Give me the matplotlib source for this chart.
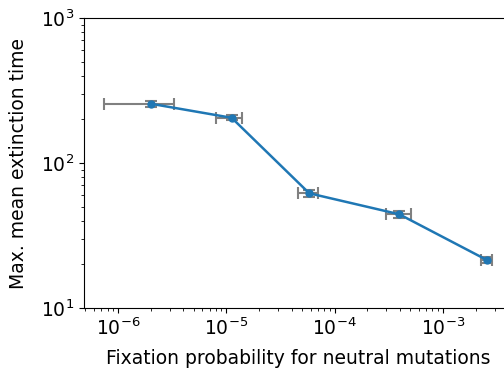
import numpy as np
import matplotlib
matplotlib.use("Agg")
from matplotlib import pyplot as plt

# fixation probability (x) and max. mean extinction time (y)
fix_prob = [2.02e-6, 1.12e-5, 5.83e-5, 3.95e-4, 2.55e-3]
fix_lo = [7.4e-7, 8.04e-6, 4.61e-5, 2.98e-4, 2.26e-3]
fix_hi = [3.29e-6, 1.41e-5, 7.01e-5, 5.04e-4, 2.86e-3]
ext_time = [256, 205, 61.8, 44.3, 21.4]
ext_err = [11, 8, 3.5, 2.5, 1]

W, H = 504, 368
fig = plt.figure(figsize=(W / 100, H / 100), dpi=100)

# axes is cropped on the right like the reference
left, right, top, bottom = 84, 512, 18, 308
ax = fig.add_axes([left / W, 1 - bottom / H, (right - left) / W, (bottom - top) / H])

x = np.array(fix_prob)
xerr = [x - np.array(fix_lo), np.array(fix_hi) - x]
ax.errorbar(x, ext_time, xerr=xerr, yerr=ext_err, fmt='o-', color='tab:blue',
            ecolor='gray', elinewidth=1.5, capsize=4, capthick=1.5,
            markersize=5, linewidth=1.8)

ax.set_xscale('log')
ax.set_yscale('log')
dec = 108.3
ax.set_xlim(10 ** (-6 - (118 - left) / dec), 10 ** (-3 + (right - 443) / dec))
ax.set_ylim(10, 1000)

ax.set_xlabel("Fixation probability for neutral mutations", fontsize=13.5, labelpad=7)
ax.set_ylabel("Max. mean extinction time", fontsize=13.5, labelpad=9)
ax.tick_params(labelsize=13.5)

fig.savefig("out.png", dpi=100)
